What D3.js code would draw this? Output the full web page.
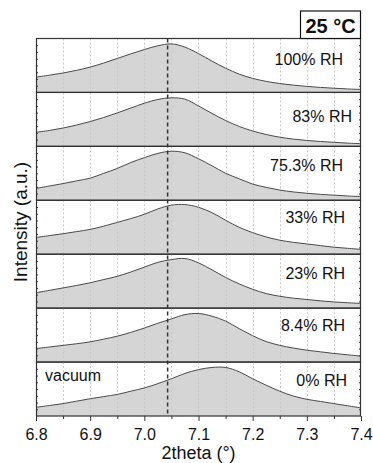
<!DOCTYPE html>
<html>
<head>
<meta charset="utf-8">
<script src="https://cdn.jsdelivr.net/npm/d3@7"></script>
<style>
  html, body { margin: 0; padding: 0; background: #fff; }
  svg { display: block; }
  text { font-family: "Liberation Sans", Arial, Helvetica, sans-serif; fill: #111; }
</style>
</head>
<body>
<svg id="chart" width="373" height="463"></svg>
<script>
// Diffraction angle grid (degrees 2theta)
const theta = [6.800, 6.825, 6.850, 6.875, 6.900, 6.925, 6.950, 6.975, 7.000, 7.025,
               7.050, 7.075, 7.100, 7.125, 7.150, 7.175, 7.200, 7.225, 7.250, 7.275,
               7.300, 7.325, 7.350, 7.375, 7.400];

// Normalised intensity of each humidity scan, top panel first
const rh100 = [0.285, 0.32, 0.36, 0.41, 0.47, 0.545, 0.63, 0.715, 0.795, 0.865,
               0.90, 0.84, 0.72, 0.58, 0.45, 0.34, 0.26, 0.205, 0.165, 0.135,
               0.112, 0.093, 0.078, 0.065, 0.055];
const rh83  = [0.26, 0.295, 0.34, 0.395, 0.46, 0.535, 0.62, 0.71, 0.80, 0.87,
               0.90, 0.875, 0.75, 0.61, 0.48, 0.37, 0.285, 0.22, 0.17, 0.135,
               0.11, 0.09, 0.075, 0.06, 0.05];
const rh753 = [0.22, 0.265, 0.31, 0.36, 0.41, 0.50, 0.59, 0.70, 0.79, 0.87,
               0.91, 0.88, 0.77, 0.64, 0.50, 0.40, 0.30, 0.24, 0.19, 0.155,
               0.13, 0.11, 0.095, 0.08, 0.07];
const rh33  = [0.31, 0.345, 0.38, 0.42, 0.46, 0.52, 0.59, 0.66, 0.74, 0.84,
               0.91, 0.92, 0.87, 0.77, 0.63, 0.50, 0.40, 0.32, 0.26, 0.22,
               0.19, 0.16, 0.13, 0.11, 0.09];
const rh23  = [0.285, 0.33, 0.375, 0.42, 0.47, 0.53, 0.59, 0.67, 0.76, 0.85,
               0.90, 0.92, 0.84, 0.71, 0.57, 0.45, 0.35, 0.27, 0.22, 0.185,
               0.16, 0.135, 0.115, 0.10, 0.087];
const rh84  = [0.25, 0.28, 0.31, 0.34, 0.375, 0.425, 0.48, 0.55, 0.63, 0.72,
               0.80, 0.88, 0.90, 0.85, 0.76, 0.62, 0.49, 0.38, 0.31, 0.26,
               0.22, 0.19, 0.16, 0.135, 0.11];
const rh0   = [0.16, 0.195, 0.23, 0.275, 0.32, 0.36, 0.40, 0.46, 0.52, 0.60,
               0.69, 0.79, 0.86, 0.90, 0.90, 0.82, 0.69, 0.57, 0.46, 0.37,
               0.31, 0.27, 0.23, 0.19, 0.15];

const scans = [rh100, rh83, rh753, rh33, rh23, rh84, rh0];
const scanLabels = ["100% RH", "83% RH", "75.3% RH", "33% RH", "23% RH", "8.4% RH", "0% RH"];

// Axis ticks and reference line
const xMajorTicks = [6.8, 6.9, 7.0, 7.1, 7.2, 7.3, 7.4];
const xMinorTicks = [6.85, 6.95, 7.05, 7.15, 7.25, 7.35];
const gridTicks = [6.85, 6.9, 6.95, 7.0, 7.05, 7.1, 7.15, 7.2, 7.25, 7.3, 7.35];
const refTheta = 7.043;
const tempLabel = "25 °C";
const conditionLabel = "vacuum";
const xTitle = "2theta (°)";
const yTitle = "Intensity (a.u.)";

// Layout
const W = 373, H = 463;
const plot = { left: 36, right: 361, top: 38.5, bottom: 416 };
const nPanels = scans.length;
const panelH = (plot.bottom - plot.top) / nPanels;
// label placement inside each panel: [right edge x, baseline below panel top]
const labelPos = [[343, 26], [352, 30], [343, 25], [345, 23], [345, 25], [345, 23], [347, 24]];

const svg = d3.select("#chart");

const x = d3.scaleLinear().domain([6.8, 7.4]).range([plot.left, plot.right]);
const smooth = d3.curveCatmullRom.alpha(0.5);

const panelTop = i => plot.top + i * panelH;

scans.forEach((vals, i) => {
  const top = panelTop(i), bottom = top + panelH;
  const y = d3.scaleLinear().domain([0, 1]).range([bottom, top]);
  const g = svg.append("g");

  const pts = theta.map((t, k) => [t, vals[k]]);

  g.append("path")
    .datum(pts)
    .attr("fill", "#d5d5d5")
    .attr("d", d3.area()
      .x(d => x(d[0])).y0(bottom).y1(d => y(d[1]))
      .curve(smooth));

  // dotted vertical grid
  g.selectAll("line.grid")
    .data(gridTicks)
    .join("line")
    .attr("x1", d => Math.round(x(d)) + 0.5).attr("x2", d => Math.round(x(d)) + 0.5)
    .attr("y1", top).attr("y2", bottom)
    .attr("stroke", "#c8c8c8")
    .attr("stroke-width", 1)
    .attr("stroke-dasharray", "2,2");

  g.append("path")
    .datum(pts)
    .attr("fill", "none")
    .attr("stroke", "#4a4a4a")
    .attr("stroke-width", 1)
    .attr("d", d3.line()
      .x(d => x(d[0])).y(d => y(d[1]))
      .curve(smooth));

  // small inward ticks on both sides
  const sideTicks = [0.125, 0.25, 0.375, 0.5, 0.625, 0.75, 0.875];
  g.append("g")
    .attr("transform", `translate(${plot.left},0)`)
    .call(d3.axisRight(y).tickValues(sideTicks).tickSize(2).tickFormat(""))
    .call(a => a.select(".domain").remove())
    .call(a => a.selectAll("line").attr("stroke", "#333"));
  g.append("g")
    .attr("transform", `translate(${plot.right},0)`)
    .call(d3.axisLeft(y).tickValues(sideTicks).tickSize(2).tickFormat(""))
    .call(a => a.select(".domain").remove())
    .call(a => a.selectAll("line").attr("stroke", "#333"));

  // panel frame
  g.append("rect")
    .attr("x", plot.left + 0.5).attr("y", top)
    .attr("width", plot.right - plot.left - 1).attr("height", panelH)
    .attr("fill", "none")
    .attr("stroke", "#333")
    .attr("stroke-width", 1.2);

  g.append("text")
    .attr("x", labelPos[i][0]).attr("y", top + labelPos[i][1])
    .attr("text-anchor", "end")
    .attr("font-size", 16)
    .text(scanLabels[i]);
});

// condition note in the bottom panel
svg.append("text")
  .attr("x", 45).attr("y", panelTop(nPanels - 1) + 19)
  .attr("font-size", 16)
  .text(conditionLabel);

// reference position
svg.append("line")
  .attr("x1", x(refTheta)).attr("x2", x(refTheta))
  .attr("y1", plot.top).attr("y2", plot.bottom)
  .attr("stroke", "#333")
  .attr("stroke-width", 1.5)
  .attr("stroke-dasharray", "4,3");

// bottom axis
const xAxis = svg.append("g")
  .attr("transform", `translate(0,${plot.bottom})`)
  .call(d3.axisBottom(x).tickValues(xMajorTicks).tickFormat(d3.format(".1f"))
    .tickSizeInner(5).tickSizeOuter(0).tickPadding(8));
xAxis.select(".domain").remove();
xAxis.selectAll("line").attr("stroke", "#333");
xAxis.selectAll("text").attr("font-size", 16).attr("fill", "#111")
  .attr("font-family", "'Liberation Sans', Arial, sans-serif");

svg.append("g")
  .attr("transform", `translate(0,${plot.bottom})`)
  .call(d3.axisBottom(x).tickValues(xMinorTicks).tickFormat("").tickSizeInner(3).tickSizeOuter(0))
  .call(a => a.select(".domain").remove())
  .call(a => a.selectAll("line").attr("stroke", "#333"));

// axis titles
svg.append("text")
  .attr("x", (plot.left + plot.right) / 2).attr("y", 459)
  .attr("text-anchor", "middle")
  .attr("font-size", 18)
  .text(xTitle);

svg.append("text")
  .attr("transform", `translate(27,222) rotate(-90)`)
  .attr("text-anchor", "middle")
  .attr("font-size", 19)
  .text(yTitle);

// temperature box
const boxW = 61, boxH = 27.5;
svg.append("rect")
  .attr("x", plot.right - boxW + 0.5).attr("y", plot.top - boxH)
  .attr("width", boxW - 1).attr("height", boxH)
  .attr("fill", "#fff")
  .attr("stroke", "#111")
  .attr("stroke-width", 1.2);
svg.append("text")
  .attr("x", plot.right - boxW / 2).attr("y", plot.top - 5.5)
  .attr("text-anchor", "middle")
  .attr("font-size", 20)
  .attr("font-weight", "bold")
  .text(tempLabel);
</script>
</body>
</html>
